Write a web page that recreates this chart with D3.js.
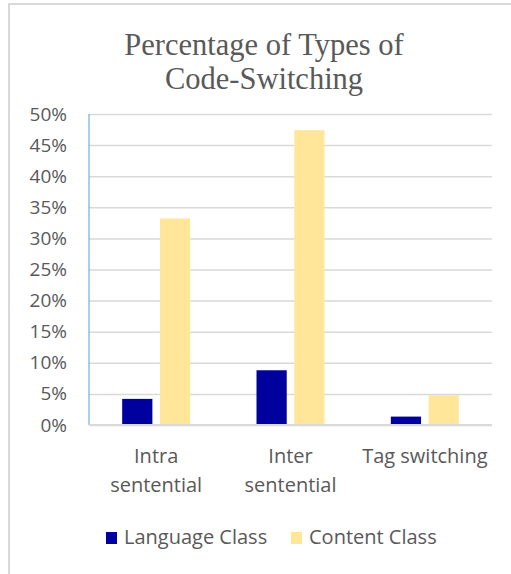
<!DOCTYPE html>
<html>
<head>
<meta charset="utf-8">
<script src="https://cdn.jsdelivr.net/npm/d3@7"></script>
<style>
  body { margin: 0; background: #fff; }
  svg text { font-family: "Open Sans", sans-serif; fill: #595959; }
</style>
</head>
<body>
<div id="chart"></div>
<script>
// chart values
var categories = ["Intra sentential", "Inter sentential", "Tag switching"];
var categoryLines = [["Intra", "sentential"], ["Inter", "sentential"], ["Tag switching"]];
var seriesNames = ["Language Class", "Content Class"];
var languageClass = [0.042, 0.088, 0.0135];
var contentClass = [0.332, 0.474, 0.048];
var yTicks = [0, 0.05, 0.10, 0.15, 0.20, 0.25, 0.30, 0.35, 0.40, 0.45, 0.50];
var colors = ["#00009f", "#ffe699"];

var width = 511, height = 574;
var margin = { top: 114, left: 89, right: 19, bottom: 149 };

var svg = d3.select("#chart").append("svg")
    .attr("width", width)
    .attr("height", height);

// outer frame (runs past the right / bottom edge like the original)
svg.append("rect")
    .attr("x", 9).attr("y", 4)
    .attr("width", 520).attr("height", 590)
    .attr("fill", "#fff")
    .attr("stroke", "#d9d9d9")
    .attr("stroke-width", 2);

// title
var title = svg.append("text")
    .attr("text-anchor", "middle")
    .style("font-family", "'Liberation Serif', 'DejaVu Serif', serif")
    .style("font-size", "30.5px");
title.append("tspan").attr("x", 264).attr("y", 55).text("Percentage of Types of");
title.append("tspan").attr("x", 264).attr("y", 89).text("Code-Switching");

var x0 = d3.scaleBand()
    .domain(categories)
    .range([margin.left, width - margin.right]);

var bw = x0.bandwidth();
var x1 = d3.scaleBand()
    .domain(seriesNames)
    .range([bw / 2 - 34, bw / 2 + 34])
    .paddingInner(0.2);

var y = d3.scaleLinear()
    .domain([0, 0.5])
    .range([height - margin.bottom, margin.top]);

// y axis with gridlines
var yAxis = svg.append("g")
    .attr("transform", "translate(" + margin.left + ",0)")
    .call(d3.axisLeft(y)
        .tickValues(yTicks)
        .tickFormat(d3.format(".0%"))
        .tickSize(-(width - margin.left - margin.right))
        .tickPadding(22));
yAxis.select(".domain").remove();
yAxis.selectAll(".tick line")
    .attr("stroke", "#d9d9d9")
    .attr("stroke-width", 1.5);
yAxis.selectAll(".tick text")
    .style("font-size", "19px")
    .attr("fill", "#595959");

// left axis line
svg.append("line")
    .attr("x1", margin.left).attr("x2", margin.left)
    .attr("y1", y(0.5)).attr("y2", y(0))
    .attr("stroke", "#5b9bd5")
    .attr("stroke-width", 1);

// bars
var rows = categories.map(function (c, i) {
    return { cat: c, values: [languageClass[i], contentClass[i]] };
});

var groups = svg.selectAll(".group")
    .data(rows)
    .enter()
    .append("g")
    .attr("class", "group")
    .attr("transform", function (d) { return "translate(" + x0(d.cat) + ",0)"; });

groups.selectAll("rect")
    .data(function (d) {
        return d.values.map(function (v, j) { return { name: seriesNames[j], value: v, idx: j }; });
    })
    .enter()
    .append("rect")
    .attr("x", function (d) { return x1(d.name); })
    .attr("width", x1.bandwidth())
    .attr("y", function (d) { return y(d.value); })
    .attr("height", function (d) { return y(0) - y(d.value); })
    .attr("fill", function (d) { return colors[d.idx]; });

// x axis
var xAxis = svg.append("g")
    .attr("transform", "translate(0," + y(0) + ")")
    .call(d3.axisBottom(x0).tickSize(0).tickPadding(0));
xAxis.select(".domain").remove();
xAxis.selectAll(".tick text").remove();
xAxis.selectAll(".tick").each(function (d, i) {
    var t = d3.select(this).append("text")
        .attr("text-anchor", "middle")
        .attr("fill", "#595959")
        .style("font-size", "20px");
    categoryLines[i].forEach(function (line, k) {
        t.append("tspan").attr("x", 0).attr("y", 38 + k * 29).text(line);
    });
});

// zero line
svg.append("line")
    .attr("x1", margin.left).attr("x2", width - margin.right)
    .attr("y1", y(0)).attr("y2", y(0))
    .attr("stroke", "#d9d9d9")
    .attr("stroke-width", 2);

// legend
var legendX = [106, 291];
var legend = svg.selectAll(".legend")
    .data(seriesNames)
    .enter()
    .append("g")
    .attr("class", "legend")
    .attr("transform", function (d, i) { return "translate(" + legendX[i] + ",532)"; });
legend.append("rect")
    .attr("width", 11).attr("height", 12)
    .attr("fill", function (d, i) { return colors[i]; });
legend.append("text")
    .attr("x", 18).attr("y", 12)
    .style("font-size", "20px")
    .text(function (d) { return d; });
</script>
</body>
</html>
